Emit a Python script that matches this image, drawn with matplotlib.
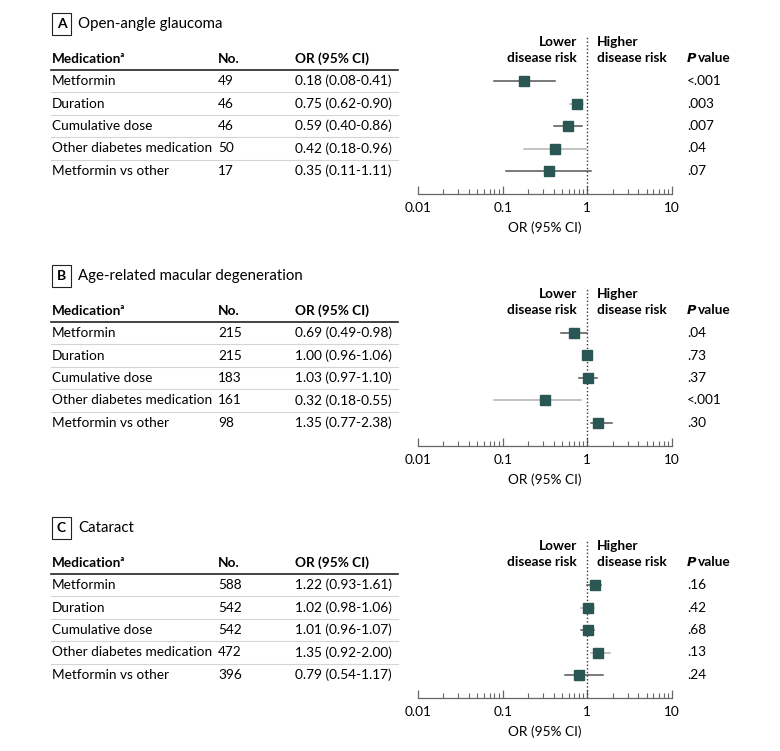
import numpy as np
import matplotlib
matplotlib.use("Agg")
import matplotlib.pyplot as plt
from matplotlib.ticker import LogLocator, NullFormatter, FixedLocator, FixedFormatter

plt.rcParams['font.family'] = ['Lato', 'DejaVu Sans']

# ---- data ----
titles = ["Open-angle glaucoma", "Age-related macular degeneration", "Cataract"]
letters = ["A", "B", "C"]
meds = ["Metformin", "Duration", "Cumulative dose", "Other diabetes medication", "Metformin vs other"]

n_a = [49, 46, 46, 50, 17]
n_b = [215, 215, 183, 161, 98]
n_c = [588, 542, 542, 472, 396]

or_a = [0.18, 0.75, 0.59, 0.42, 0.35]
lo_a = [0.08, 0.62, 0.40, 0.18, 0.11]
hi_a = [0.41, 0.90, 0.86, 0.96, 1.11]

or_b = [0.69, 1.00, 1.03, 0.32, 1.35]
lo_b = [0.49, 0.96, 0.97, 0.18, 0.77]
hi_b = [0.98, 1.06, 1.10, 0.55, 2.38]
# whisker ends as drawn in the picture (differ from the printed CI in places)
plot_lo_b = [0.49, 0.96, 0.80, 0.08, 1.10]
plot_hi_b = [0.98, 1.06, 1.30, 0.85, 1.95]

or_c = [1.22, 1.02, 1.01, 1.35, 0.79]
lo_c = [0.93, 0.98, 0.96, 0.92, 0.54]
hi_c = [1.61, 1.06, 1.07, 2.00, 1.17]
plot_lo_c = [1.00, 0.85, 0.85, 1.10, 0.55]
plot_hi_c = [1.45, 1.20, 1.20, 1.85, 1.55]

p_a = ["<.001", ".003", ".007", ".04", ".07"]
p_b = [".04", ".73", ".37", "<.001", ".30"]
p_c = [".16", ".42", ".68", ".13", ".24"]

panels = [
    (n_a, or_a, lo_a, hi_a, lo_a, hi_a, p_a),
    (n_b, or_b, lo_b, hi_b, plot_lo_b, plot_hi_b, p_b),
    (n_c, or_c, lo_c, hi_c, plot_lo_c, plot_hi_c, p_c),
]

W, H = 780, 751
fig = plt.figure(figsize=(W / 100, H / 100), dpi=100)
bg = fig.add_axes([0, 0, 1, 1])
bg.set_xlim(0, W)
bg.set_ylim(H, 0)
bg.axis('off')

mark_col = '#2a5753'
wcols = ['#555555', '#b3b3b3', '#555555', '#b3b3b3', '#555555']
fs = 9.8

for k in range(3):
    n, orv, lo, hi, plo, phi, pv = panels[k]
    off = 252 * k
    # title with letter box
    bg.text(61.5, 24 + off, letters[k], fontsize=10, fontweight='bold', ha='center', va='center',
            bbox=dict(boxstyle='square,pad=0.35', fc='white', ec='#222222', lw=0.8))
    bg.text(78, 24 + off, titles[k], fontsize=10.8, ha='left', va='center')

    # table header
    hy = 59 + off
    bg.text(52, hy, "Medication\u1d43", fontsize=fs, fontweight='bold', va='center')
    bg.text(218, hy, "No.", fontsize=fs, fontweight='bold', va='center')
    bg.text(295, hy, "OR (95% CI)", fontsize=fs, fontweight='bold', va='center')
    bg.plot([51, 398], [69.5 + off, 69.5 + off], color='#222222', lw=1.2)

    for i in range(5):
        ry = 81 + off + 22.5 * i
        bg.text(52, ry, meds[i], fontsize=fs, va='center')
        bg.text(218, ry, str(n[i]), fontsize=fs, va='center')
        bg.text(295, ry, "%.2f (%.2f-%.2f)" % (orv[i], lo[i], hi[i]), fontsize=fs, va='center')
        bg.text(687, ry, pv[i], fontsize=fs, va='center')
        if i < 4:
            bg.plot([51, 398], [ry + 11, ry + 11], color='#d4d4d4', lw=0.8)

    # forest axes
    top, bot = 35 + off, 194 + off
    left, right = 418, 672
    ax = fig.add_axes([left / W, 1 - bot / H, (right - left) / W, (bot - top) / H])
    ax.set_xscale('log')
    ax.set_xlim(0.01, 10)
    ax.set_ylim((bot - 81 - off) / 22.5, (top - 81 - off) / 22.5)
    ax.patch.set_alpha(0)
    for s in ['top', 'right', 'left']:
        ax.spines[s].set_visible(False)
    ax.spines['bottom'].set_color('#666666')
    ax.spines['bottom'].set_linewidth(0.9)
    ax.set_yticks([])
    ax.xaxis.set_major_locator(FixedLocator([0.01, 0.1, 1, 10]))
    ax.xaxis.set_major_formatter(FixedFormatter(["0.01", "0.1", "1", "10"]))
    ax.xaxis.set_minor_locator(LogLocator(base=10, subs=np.arange(2, 10)))
    ax.xaxis.set_minor_formatter(NullFormatter())
    ax.tick_params(axis='x', which='major', direction='in', length=6, width=0.9, color='#666666',
                   labelsize=fs, pad=6)
    ax.tick_params(axis='x', which='minor', direction='in', length=3.5, width=0.8, color='#666666')
    ax.set_xlabel("OR (95% CI)", fontsize=fs, labelpad=5)

    ax.axvline(1, ymin=0, ymax=(bot - 36 - off) / (bot - top), color='#333333', lw=1.0,
               linestyle=(0, (1, 1.6)))
    ys = np.arange(5)
    for i in range(5):
        ax.plot([plo[i], phi[i]], [ys[i], ys[i]], color=wcols[i], lw=1.1, zorder=2)
    ax.plot(orv, ys, 's', color=mark_col, ms=6.5, zorder=3)

    # direction labels
    bg.text(577, 42 + off, "Lower", fontsize=fs, fontweight='bold', ha='right', va='center')
    bg.text(577, 58 + off, "disease risk", fontsize=fs, fontweight='bold', ha='right', va='center')
    bg.text(597, 42 + off, "Higher", fontsize=fs, fontweight='bold', ha='left', va='center')
    bg.text(597, 58 + off, "disease risk", fontsize=fs, fontweight='bold', ha='left', va='center')
    bg.text(687, 58 + off, "P", fontsize=fs - 0.5, fontweight='bold', fontstyle='italic',
            family='DejaVu Sans', va='center')
    bg.text(698, 58 + off, "value", fontsize=fs, fontweight='bold', va='center')

fig.savefig("out.png", dpi=100)
